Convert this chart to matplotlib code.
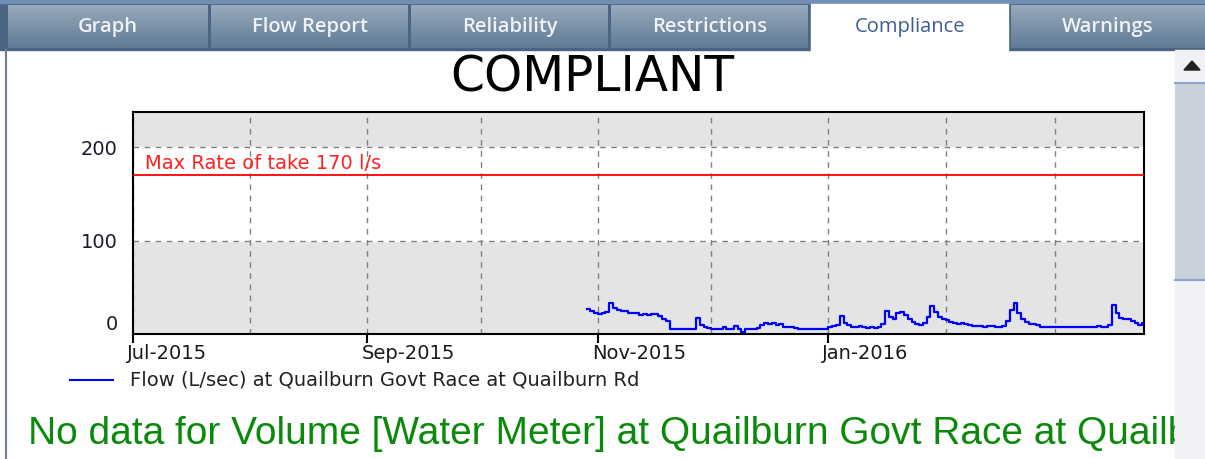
import numpy as np
import pandas as pd
import matplotlib
matplotlib.use("Agg")
import matplotlib.pyplot as plt
import matplotlib.dates as mdates
from matplotlib.colors import LinearSegmentedColormap
from matplotlib.patches import Rectangle, Polygon
from matplotlib.lines import Line2D
from matplotlib.transforms import ScaledTranslation

# Tab strip labels
tab_names = ["Graph", "Flow Report", "Reliability", "Restrictions", "Compliance", "Warnings"]
active_tab = "Compliance"

# Daily flow readings (L/sec), starting 29 Oct 2015
flow_start = "2015-10-29"
oct_vals = [27, 25, 22]
nov_vals = [21, 23, 24, 33, 28, 26, 25, 25, 23, 22,
            22, 20, 21, 20, 21, 21, 19, 16, 14, 5,
            5, 5, 5, 5, 5, 5, 17, 10, 8, 6]
dec_vals = [5, 5, 5, 8, 5, 5, 9, 5, 2, 5,
            5, 5, 6, 10, 12, 11, 12, 10, 11, 8,
            7, 8, 6, 5, 5, 5, 5, 5, 5, 5, 5]
jan_vals = [8, 9, 10, 19, 12, 10, 8, 7, 9, 7,
            6, 8, 6, 7, 11, 25, 18, 16, 22, 24,
            20, 16, 13, 11, 10, 12, 18, 30, 24, 18, 16]
feb_vals = [15, 13, 12, 11, 12, 11, 10, 9, 9, 9,
            8, 9, 9, 8, 8, 9, 14, 26, 33, 22,
            16, 13, 11, 11, 10, 8, 8, 8, 7]
mar_vals = [8, 7, 8, 8, 8, 7, 8, 8, 8, 8,
            8, 9, 8, 8, 10, 31, 22, 17, 16, 16,
            14, 12, 10, 12, 12]

max_rate = 170
max_label = "Max Rate of take 170 l/s"
series_label = "Flow (L/sec) at Quailburn Govt Race at Quailburn Rd"
status_text = "COMPLIANT"
note_text = "No data for Volume [Water Meter] at Quailburn Govt Race at Quailburn Rd"
y_ticks = [0, 100, 200]
x_tick_dates = ["2015-07-01", "2015-09-01", "2015-11-01", "2016-01-01"]

flow_vals = oct_vals + nov_vals + dec_vals + jan_vals + feb_vals + mar_vals
flow_dates = pd.date_range(flow_start, periods=len(flow_vals), freq="D")

W, H = 1205, 459
fig = plt.figure(figsize=(W / 100, H / 100), dpi=100)
fig.patch.set_facecolor("white")

# pixel overlay for the window chrome
ov = fig.add_axes([0, 0, 1, 1], zorder=0)
ov.set_axis_off()

ov.add_patch(Rectangle((0, 0), W, 50, color="#4a6581", zorder=1))
ov.add_patch(Rectangle((0, 0), W, 3, color="#6f8fb4", zorder=2))
tab_cmap = LinearSegmentedColormap.from_list("tab", ["#99abbc", "#7b92a8", "#5f7b96"])
grad = np.linspace(0, 1, 64).reshape(-1, 1)
tab_edges = [(8, 208), (211, 408), (411, 608), (611, 808), (811, 1008), (1011, 1205)]
for name, (x0, x1) in zip(tab_names, tab_edges):
    if name == active_tab:
        ov.add_patch(Rectangle((x0, 4), x1 - x0, 50, color="white", zorder=3))
        ov.text((x0 + x1) / 2, 27, name, ha="center", va="center", fontsize=14.5,
                family="Open Sans", color="#3d5c96", zorder=4)
    else:
        ov.imshow(grad, cmap=tab_cmap, extent=(x0, x1, 48, 5), aspect="auto",
                  origin="upper", zorder=3)
        ov.text((x0 + x1) / 2, 27, name, ha="center", va="center", fontsize=14.5,
                family="Open Sans", weight="semibold", color="#eef2f6", zorder=4)

# content frame
ov.plot([6, 6], [50, H], color="#6e7f92", lw=1.5, zorder=3)

# scrollbar
ov.add_patch(Rectangle((1175, 50), W - 1175, H - 50, color="#eff1f4", zorder=5))
ov.add_patch(Rectangle((1175, 83), W - 1175, 197, facecolor="#c9d1da",
                       edgecolor="none", zorder=6))
ov.plot([1175, W], [83, 83], color="#8aa6cf", lw=1.5, zorder=7)
ov.plot([1175, W], [280, 280], color="#8aa6cf", lw=1.5, zorder=7)
ov.add_patch(Polygon([[1184, 70], [1200, 70], [1192, 61]], color="#222222", zorder=7))

# title, legend, note
ov.text(592, 92, status_text, ha="center", va="baseline", fontsize=35,
        family="DejaVu Sans", color="black", zorder=4)
ov.add_line(Line2D([70, 113], [380, 380], color="#0000ff", lw=1.5, zorder=4))
ov.text(130, 380, series_label, ha="left", va="center", fontsize=14,
        family="DejaVu Sans", color="#222222", zorder=4)
note = ov.text(28, 444, note_text, ha="left", va="baseline", fontsize=28,
               family="Liberation Sans", color="#0a8a0a", zorder=4)
# the panel cuts the message at the scrollbar, as in the app
note.set_clip_path(Rectangle((7, 395), 1168, 64, transform=ov.transData))

ov.set_xlim(0, W)
ov.set_ylim(H, 0)

# chart
ax = fig.add_axes([133 / W, 1 - 334 / H, (1144 - 133) / W, (334 - 112) / H], zorder=2)
ax.set_facecolor("#e4e4e4")
ax.axhspan(100, 200, color="white", zorder=0)

ax.plot(flow_dates, flow_vals, color="#0000ff", lw=1.6, drawstyle="steps-post", zorder=3)
ax.axhline(max_rate, color="#ff0000", lw=1.3, zorder=3)
ax.text(0.012, max_rate + 3, max_label, transform=ax.get_yaxis_transform(),
        ha="left", va="bottom", fontsize=14, color="#ff2020", zorder=4)

ax.set_xlim(pd.Timestamp("2015-07-01"), pd.Timestamp("2016-03-24 12:00"))
ax.set_ylim(0, 238)

ax.set_xticks(pd.to_datetime(x_tick_dates))
ax.xaxis.set_major_formatter(mdates.DateFormatter("%b-%Y"))
ax.xaxis.set_minor_locator(mdates.MonthLocator())
ax.set_yticks(y_ticks)

ax.grid(True, which="both", axis="x", color="#808080", lw=1, ls=(0, (4, 4)), zorder=1)
ax.grid(True, which="major", axis="y", color="#808080", lw=1, ls=(0, (4, 4)), zorder=1)
ax.set_axisbelow(True)

ax.tick_params(axis="x", which="major", direction="out", length=6.5, width=1.5,
               pad=1, labelsize=14, labelcolor="#1a1a1a")
ax.tick_params(axis="x", which="minor", length=0)
ax.tick_params(axis="y", length=0, pad=11, labelsize=14, labelcolor="#1a1a2a")
for lbl in ax.get_xticklabels():
    lbl.set_ha("left")
    lbl.set_transform(lbl.get_transform() + ScaledTranslation(-6 / 100, 0, fig.dpi_scale_trans))
for lbl in ax.get_yticklabels():
    if lbl.get_text() == "0":
        lbl.set_va("bottom")

for sp in ax.spines.values():
    sp.set_color("black")
    sp.set_linewidth(1.5)

fig.savefig("out.png", dpi=100, facecolor="white")
